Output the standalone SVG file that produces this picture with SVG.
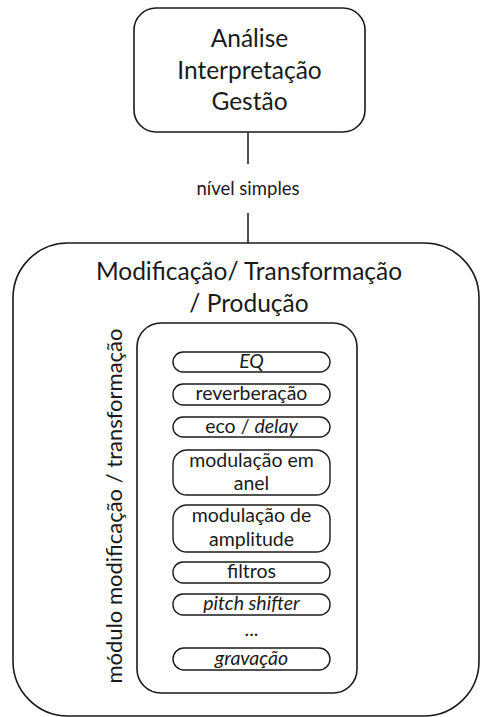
<svg xmlns="http://www.w3.org/2000/svg" width="480" height="717" viewBox="0 0 480 717">
  <style>
    .box { fill: #ffffff; stroke: #1a1a1a; stroke-width: 1.6; }
    .pill { fill: #ffffff; stroke: #1a1a1a; stroke-width: 1.4; }
    .edge { stroke: #1a1a1a; stroke-width: 1.5; fill: none; }
    text { font-family: Lato, "Open Sans", "DejaVu Sans", sans-serif; fill: #1a1a1a; text-anchor: middle; }
    .big { font-size: 24.5px; }
    .label { font-size: 18.5px; }
    .side { font-size: 22px; }
    .mid { font-size: 19.5px; }
    .it { font-style: italic; }
  </style>
  <rect width="480" height="717" fill="#ffffff"/>

  <!-- connector between the top node and the main block -->
  <g id="connectors">
    <line class="edge" x1="248" y1="132" x2="248" y2="164"/>
    <line class="edge" x1="248" y1="213" x2="248" y2="243"/>
    <text class="label" x="248" y="195">nível simples</text>
  </g>

  <g id="node-analise">
    <rect class="box" x="134" y="8" width="231" height="124" rx="22"/>
    <text class="big" x="249.5" y="47">Análise</text>
    <text class="big" x="249.5" y="79">Interpretação</text>
    <text class="big" x="249.5" y="110">Gestão</text>
  </g>

  <g id="node-modificacao">
    <rect class="box" x="13" y="243" width="466" height="473" rx="55"/>
    <text class="big" x="249" y="280">Modificação/ Transformação</text>
    <text class="big" x="249" y="312">/ Produção</text>
  </g>

  <g id="node-modulo">
    <rect class="box" x="137" y="323" width="220" height="370" rx="24"/>
    <text class="side" transform="translate(122 506) rotate(-90)">módulo modificação / transformação</text>
  </g>

  <g id="node-eq">
    <rect class="pill" x="173" y="352" width="157" height="20" rx="10"/>
    <text class="mid it" x="251.5" y="368">EQ</text>
  </g>
  <g id="node-reverberacao">
    <rect class="pill" x="173" y="384" width="157" height="21" rx="10"/>
    <text class="mid" x="251.5" y="400">reverberação</text>
  </g>
  <g id="node-eco">
    <rect class="pill" x="173" y="417" width="157" height="20" rx="10"/>
    <text class="mid" x="251.5" y="433">eco / <tspan class="it">delay</tspan></text>
  </g>
  <g id="node-modulacao-anel">
    <rect class="pill" x="173" y="450" width="157" height="45" rx="14"/>
    <text class="mid" x="251.5" y="467">modulação em</text>
    <text class="mid" x="251.5" y="490">anel</text>
  </g>
  <g id="node-modulacao-amplitude">
    <rect class="pill" x="173" y="505" width="157" height="47" rx="14"/>
    <text class="mid" x="251.5" y="522">modulação de</text>
    <text class="mid" x="251.5" y="546">amplitude</text>
  </g>
  <g id="node-filtros">
    <rect class="pill" x="173" y="562" width="157" height="21" rx="10"/>
    <text class="mid" x="251.5" y="578">filtros</text>
  </g>
  <g id="node-pitch">
    <rect class="pill" x="173" y="594" width="157" height="21" rx="10"/>
    <text class="mid it" x="251.5" y="610">pitch shifter</text>
  </g>
  <g id="node-ellipsis">
    <text class="mid" x="251.5" y="636">...</text>
  </g>
  <g id="node-gravacao">
    <rect class="pill" x="173" y="648" width="157" height="22" rx="11"/>
    <text class="mid it" x="251.5" y="665">gravação</text>
  </g>
</svg>
